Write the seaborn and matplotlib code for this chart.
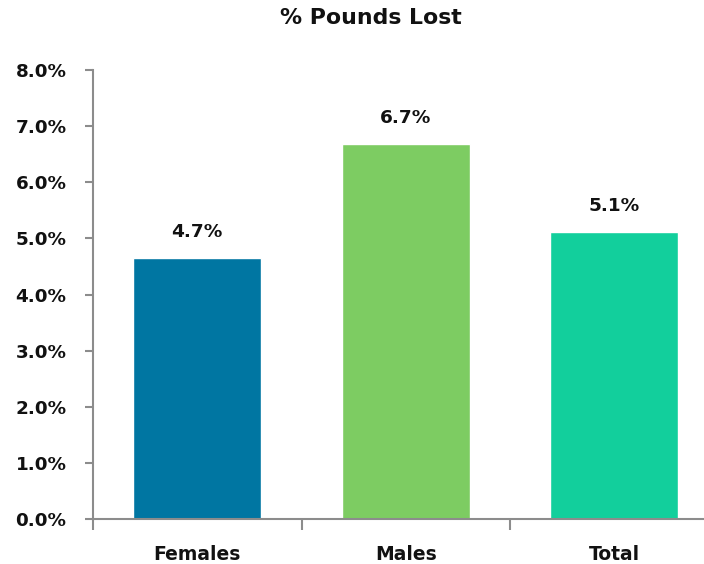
import matplotlib
matplotlib.use("Agg")
import matplotlib.pyplot as plt
import seaborn as sns
import pandas as pd
from matplotlib.ticker import FuncFormatter, FixedLocator

categories = ["Females", "Males", "Total"]
values = [4.65, 6.68, 5.12]
labels = ["4.7%", "6.7%", "5.1%"]
colors = ["#0076A2", "#7DCC62", "#12CF9C"]

sns.set_theme(style="white")
plt.rcParams['font.family'] = ['DejaVu Sans']

df = pd.DataFrame({"cat": categories, "val": values})

fig = plt.figure(figsize=(7.04, 5.64), dpi=100)
ax = fig.add_axes([93/704, 45/564, 1 - 93/704, (519-70)/564])
sns.barplot(data=df, x="cat", y="val", hue="cat", palette=colors, width=0.615,
            legend=False, ax=ax, saturation=1)

ax.set_ylim(0, 8)
ax.set_xlim(-0.5, 2.43)
ax.yaxis.set_major_locator(FixedLocator([0, 1, 2, 3, 4, 5, 6, 7, 8]))
ax.yaxis.set_major_formatter(FuncFormatter(lambda v, p: f"{v:.1f}%"))
ax.xaxis.set_minor_locator(FixedLocator([-0.5, 0.5, 1.5, 2.5]))

spine_c = "#8C8C8C"
for s in ["top", "right"]:
    ax.spines[s].set_visible(False)
for s in ["left", "bottom"]:
    ax.spines[s].set_color(spine_c)
    ax.spines[s].set_linewidth(1.5)

ax.tick_params(axis="y", which="major", left=True, length=6, width=1.5, color=spine_c,
               pad=13, labelsize=13.2)
ax.tick_params(axis="x", which="major", bottom=False, length=0, pad=19, labelsize=13.5)
ax.tick_params(axis="x", which="minor", bottom=True, length=8, width=1.5, color=spine_c)
for t in ax.get_yticklabels() + ax.get_xticklabels():
    t.set_fontweight("bold")
    t.set_color("#111111")

ax.set_xlabel("")
ax.set_ylabel("")

for i, (v, lab) in enumerate(zip(values, labels)):
    ax.annotate(lab, (i, v), xytext=(0, 26), textcoords="offset pixels",
                ha="center", va="center", fontsize=13.3, fontweight="bold", color="#111111")

fig.text(371/704, 1 - 18/564, "% Pounds Lost", ha="center", va="center",
         fontsize=15.8, fontweight="bold", color="#111111")

fig.savefig("out.png", dpi=100)
